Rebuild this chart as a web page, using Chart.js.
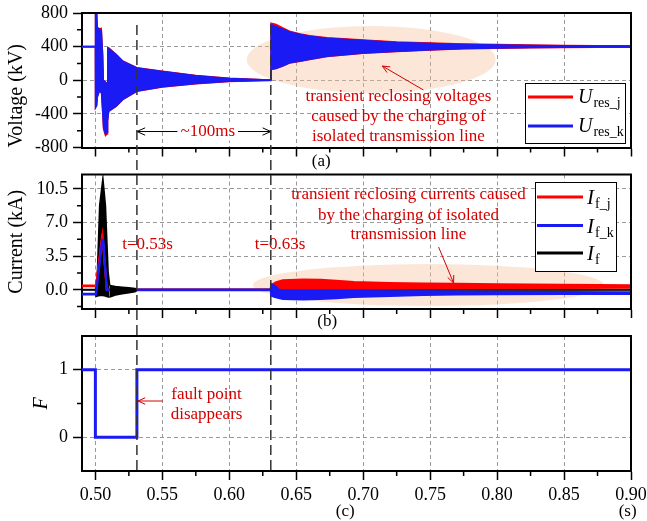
<!DOCTYPE html>
<html><head><meta charset="utf-8">
<script src="https://cdn.jsdelivr.net/npm/chart.js@4.4.1/dist/chart.umd.min.js"></script>
<style>
html,body{margin:0;padding:0;background:#fff;}
#wrap{position:relative;width:647px;height:521px;overflow:hidden;background:#fff;}
#wrap canvas{position:absolute;left:0;top:0;}
</style></head><body>
<div id="wrap">
<canvas id="cV" width="647" height="521"></canvas>
<canvas id="cI" width="647" height="521"></canvas>
<canvas id="cF" width="647" height="521"></canvas>
</div>
<script>
// ---------- tick values ----------
const xMajor = [0.50,0.55,0.60,0.65,0.70,0.75,0.80,0.85,0.90];
const xMinor = [0.525,0.575,0.625,0.675,0.725,0.775,0.825,0.875];
const vMajor = [-800,-400,0,400,800];
const vMinor = [-600,-200,200,600];
const iMajor = [0,3.5,7,10.5];
const iMinor = [-1.75,1.75,5.25,8.75];
const fMajor = [0,1];
const fMinor = [0.5];
const tEvents = [0.531, 0.631];

// ---------- (a) residual voltages: envelope of the oscillation (kV) ----------
const tU   = [0.49,0.4999,0.5000,0.5010,0.5015,0.5030,0.5045,0.5055,0.5060,0.5075,0.5088,0.5092,0.5100,0.5155,0.5205,0.5310,0.5500,0.5750,0.6000,0.6250,0.6309,0.6311,0.6350,0.6400,0.6450,0.6530,0.6600,0.6730,0.7000,0.7250,0.7500,0.7750,0.8000,0.8250,0.8500,0.8750,0.9000];
const uKHi = [400,400,820,820,620,610,590,300,0,-20,-40,387,380,307,227,148,107,56,24,8,5,665,640,610,575,545,525,500,475,452,440,428,422,416,412,410,408];
const uKLo = [400,400,-330,-300,-200,-130,-150,-400,-560,-640,-620,-480,-370,-310,-230,-131,-79,-40,-15,-5,-3,128,140,170,205,227,247,285,322,342,360,375,383,388,391,393,394];
const uJHi = [407,407,820,820,630,615,620,300,0,-20,-40,390,385,310,230,150,109,58,25,9,6,680,665,625,585,553,532,507,482,458,446,433,427,420,416,413,411];
const uJLo = [393,393,-330,-300,-200,-130,-150,-420,-580,-662,-640,-480,-372,-312,-232,-133,-81,-42,-17,-6,-4,125,137,167,202,224,244,282,319,339,357,372,380,385,388,390,391];

// ---------- (b) currents (kA) ----------
const tIj  = [0.49,0.5005,0.5052,0.5085,0.631,0.6312,0.635,0.640,0.655,0.668,0.680,0.693,0.72,0.745,0.77,0.80,0.85,0.90];
const ijHi = [0.45,0.45,5.85,0.02,0.02,0.5,0.8,1.0,1.08,1.05,0.95,0.82,0.7,0.66,0.62,0.58,0.52,0.48];
const ijLo = [0.38,0.38,5.6,-0.02,-0.02,0.0,0.05,0.1,0.12,0.12,0.12,0.12,0.12,0.13,0.14,0.15,0.18,0.22];
const tIk  = [0.49,0.5005,0.5050,0.5060,0.5085,0.631,0.6312,0.634,0.637,0.640,0.655,0.668,0.680,0.693,0.72,0.745,0.77,0.80,0.85,0.90];
const ikHi = [-0.42,-0.42,5.2,5.2,0.05,0.02,0.6,0.4,0.0,-0.12,-0.12,-0.12,-0.12,-0.13,-0.14,-0.15,-0.17,-0.2,-0.22,-0.25];
const ikLo = [-0.5,-0.5,4.8,4.8,-0.05,-0.02,-0.6,-0.75,-0.85,-0.95,-1.0,-0.95,-0.87,-0.75,-0.65,-0.55,-0.5,-0.47,-0.45,-0.45];
// fault current I_f: spike, decaying tail, rest
const tIfS  = [0.49,0.5000,0.5005,0.5015,0.5032,0.5056,0.5075,0.5095,0.5107];
const ifSHi = [0.02,0.02,0.3,1.9,8.8,11.6,8.8,1.9,0.45];
const ifSLo = [-0.02,-0.02,-0.7,-0.65,-0.6,-0.6,-0.65,-0.75,-0.75];
const tIfT  = [0.5107,0.515,0.520,0.525,0.5295,0.531];
const ifTHi = [0.45,0.35,0.27,0.2,0.14,0.05];
const ifTLo = [-0.75,-0.55,-0.42,-0.3,-0.2,-0.05];
const tIfR  = [0.531,0.90];
const ifRHi = [0.02,0.02];
const ifRLo = [-0.02,-0.02];

// ---------- (c) fault flag ----------
const tF   = [0.49,0.50,0.50,0.531,0.531,0.90];
const fVal = [1,1,0,0,1,1];

// ---------- labels ----------
const legendV = [{main:'U',sub:'res_j'},{main:'U',sub:'res_k'}];
const legendI = [{main:'I',sub:'f_j'},{main:'I',sub:'f_k'},{main:'I',sub:'f'}];

// ---------- styling ----------
const SERIF = "'Liberation Serif','Times New Roman',serif";
const RED = '#ff0000', BLUE = '#1a1af5', BLACK = '#000000', TXT_RED = '#d40000';
const GRID = '#9a9a9a';

function pts(t, v){ return t.map((x,i)=>({x:x, y:v[i]})); }
function band(t, hi, lo, color, order, bw){
  return [
    {data:pts(t,hi), borderColor:color, backgroundColor:color, borderWidth:bw, pointRadius:0, fill:false, order:order+0.5},
    {data:pts(t,lo), borderColor:color, backgroundColor:color, borderWidth:bw, pointRadius:0, fill:'-1', order:order}
  ];
}
function xScale(showLabels, h){
  return {type:'linear', min:0.49, max:0.90,
    afterBuildTicks: s => { s.ticks = xMajor.map(v=>({value:v})); },
    afterFit: s => { s.height = h; s.paddingLeft = 0; s.paddingRight = 0; },
    ticks:{display:showLabels, autoSkip:false, maxRotation:0, padding:4, color:'#000',
      font:{family:SERIF,size:18}, callback: v => Number(v).toFixed(2)},
    grid:{color: c => (c.tick && c.tick.value > 0.899) ? 'rgba(0,0,0,0)' : GRID, lineWidth:1, tickLength:9, tickColor:'#000', tickWidth:1.5},
    border:{display:true, color:'#000', width:2, dash:[4,3]}
  };
}
function yScale(min, max, major, fmt, title, titlePad, italic, align){
  return {type:'linear', min:min, max:max,
    afterBuildTicks: s => { s.ticks = major.map(v=>({value:v})); },
    afterFit: s => { s.width = 82; s.paddingTop = 0; s.paddingBottom = 0; },
    ticks:{padding:5, color:'#000', autoSkip:false, font:{family:SERIF,size:18}, callback: fmt},
    grid:{color:GRID, lineWidth:1, tickLength:9, tickColor:'#000', tickWidth:1.5},
    border:{display:true, color:'#000', width:2, dash:[4,3]},
    title:{display:true, text:title, color:'#000', align:align||'center',
      font:{family:SERIF,size:20,style: italic?'italic':'normal'}, padding:{top:titlePad,bottom:0}}
  };
}
function pxy(ch, t, v){ return [ch.scales.x.getPixelForValue(t), ch.scales.y.getPixelForValue(v)]; }
function txt(ctx, s, x, y, o){
  o = o || {};
  ctx.save();
  ctx.font = (o.style||'') + ' ' + (o.size||17) + 'px ' + SERIF;
  ctx.fillStyle = o.color || '#000'; ctx.textAlign = o.align || 'center'; ctx.textBaseline = 'middle';
  ctx.fillText(s, x, y); ctx.restore();
}
function drawArrow(ctx, x1, y1, x2, y2, color, lw, head){
  ctx.save(); ctx.strokeStyle = color; ctx.lineWidth = lw; ctx.setLineDash([]);
  ctx.beginPath(); ctx.moveTo(x1,y1); ctx.lineTo(x2,y2); ctx.stroke();
  const a = Math.atan2(y2-y1, x2-x1), s = 0.42;
  ctx.beginPath();
  ctx.moveTo(x2 - head*Math.cos(a-s), y2 - head*Math.sin(a-s));
  ctx.lineTo(x2, y2);
  ctx.lineTo(x2 - head*Math.cos(a+s), y2 - head*Math.sin(a+s));
  ctx.stroke(); ctx.restore();
}
function drawLegend(ctx, L){
  ctx.save();
  ctx.fillStyle = '#fff'; ctx.fillRect(L.x0, L.y0, L.x1-L.x0, L.y1-L.y0);
  ctx.strokeStyle = '#000'; ctx.lineWidth = 1; ctx.strokeRect(L.x0+0.5, L.y0+0.5, L.x1-L.x0, L.y1-L.y0);
  L.rows.forEach((r,i) => {
    ctx.strokeStyle = L.colors[i]; ctx.lineWidth = 3;
    ctx.beginPath(); ctx.moveTo(L.lx0, L.ys[i]); ctx.lineTo(L.lx1, L.ys[i]); ctx.stroke();
    ctx.fillStyle = '#000'; ctx.textAlign = 'left'; ctx.textBaseline = 'alphabetic';
    ctx.font = 'italic ' + L.size + 'px ' + SERIF;
    ctx.fillText(r.main, L.tx, L.ys[i] + L.b1);
    const w = ctx.measureText(r.main).width;
    ctx.font = L.sub + 'px ' + SERIF;
    ctx.fillText(r.sub, L.tx + w + 1, L.ys[i] + L.b2);
  });
  ctx.restore();
}
function deco(cfg){
  return {
    id:'deco',
    beforeDatasetsDraw(ch){
      const ctx = ch.ctx;
      (cfg.ellipses||[]).forEach(e => {
        const [xa,ya] = pxy(ch, e.t0, e.v1), [xb,yb] = pxy(ch, e.t1, e.v0);
        ctx.save(); ctx.fillStyle = 'rgba(246,188,152,0.38)'; ctx.beginPath();
        ctx.ellipse((xa+xb)/2, (ya+yb)/2, (xb-xa)/2, (yb-ya)/2, 0, 0, Math.PI*2); ctx.fill(); ctx.restore();
      });
    },
    afterDraw(ch){
      const ctx = ch.ctx, a = ch.chartArea, sx = ch.scales.x, sy = ch.scales.y;
      ctx.save(); ctx.strokeStyle = '#000'; ctx.lineWidth = 1.5; ctx.setLineDash([]);
      ctx.beginPath();
      xMinor.forEach(v => { const p = sx.getPixelForValue(v); ctx.moveTo(p, a.bottom); ctx.lineTo(p, a.bottom+5); });
      cfg.yMinor.forEach(v => { const p = sy.getPixelForValue(v); ctx.moveTo(a.left, p); ctx.lineTo(a.left-5, p); });
      ctx.stroke();
      ctx.lineWidth = 2; ctx.beginPath();
      ctx.moveTo(a.left-1, a.top); ctx.lineTo(a.right, a.top); ctx.lineTo(a.right, a.bottom+1); ctx.stroke();
      ctx.restore();
      (cfg.texts||[]).forEach(o => { const [x,y] = pxy(ch, o.t, o.v); txt(ctx, o.s, x, y, o); });
      (cfg.arrows||[]).forEach(o => { const [x1,y1] = pxy(ch, o.t1, o.v1), [x2,y2] = pxy(ch, o.t2, o.v2); drawArrow(ctx, x1, y1, x2, y2, o.color, 1, 8); });
      if (cfg.extra) cfg.extra(ch);
      if (cfg.legend) drawLegend(ctx, cfg.legend);
    }
  };
}
function makeChart(id, datasets, yOpts, padTop, padBottom, xH, xLabels, plugin){
  return new Chart(document.getElementById(id), {
    type:'line',
    data:{datasets:datasets},
    options:{
      responsive:false, animation:false, devicePixelRatio:1, events:[],
      layout:{padding:{left:0, right:16, top:padTop, bottom:padBottom}},
      plugins:{legend:{display:false}, tooltip:{enabled:false}},
      elements:{point:{radius:0}, line:{tension:0}},
      scales:{x:xScale(xLabels, xH), y:yOpts}
    },
    plugins:[plugin]
  });
}

// ---------- (a) ----------
makeChart('cV',
  [].concat(band(tU, uJHi, uJLo, RED, 8, 1.2), band(tU, uKHi, uKLo, BLUE, 6, 1.2)),
  yScale(-800, 800, vMajor, v => String(v), 'Voltage (kV)', 5, false, 'start'),
  13, 361.5, 12, false,
  deco({
    yMinor: vMinor,
    ellipses:[{t0:0.613, t1:0.799, v0:-150, v1:645}],
    texts:[
      {s:'transient reclosing voltages', t:0.7263, v:-199, color:TXT_RED},
      {s:'caused by the charging of', t:0.7263, v:-437, color:TXT_RED},
      {s:'isolated transmission line', t:0.7263, v:-675, color:TXT_RED},
      {s:'(a)', t:0.6686, v:-972}
    ],
    arrows:[{t1:0.7450, v1:-116, t2:0.7143, v2:169, color:TXT_RED}],
    extra(ch){
      const ctx = ch.ctx;
      const [x1, y] = pxy(ch, tEvents[0], -610), [x2] = pxy(ch, tEvents[1], -610);
      const xm = ch.scales.x.getPixelForValue(0.5839);
      drawArrow(ctx, xm, y, x1, y, '#000', 1, 9);
      drawArrow(ctx, xm, y, x2, y, '#000', 1, 9);
      ctx.save(); ctx.font = '17px ' + SERIF; const w = ctx.measureText('~100ms').width;
      ctx.fillStyle = '#fff'; ctx.fillRect(xm - w/2 - 3, y - 9, w + 6, 18); ctx.restore();
      txt(ctx, '~100ms', xm, y, {color:TXT_RED});
    },
    legend:{x0:525, y0:83, x1:625, y1:143, lx0:528, lx1:573, tx:578, ys:[97, 126],
      colors:[RED, BLUE], rows:legendV, size:20, sub:14, b1:6, b2:10}
  })
);

// ---------- (b) ----------
makeChart('cI',
  [].concat(
    band(tIfS, ifSHi, ifSLo, BLACK, 12, 1.5),
    band(tIfR, ifRHi, ifRLo, BLACK, 12, 1.5),
    band(tIj, ijHi, ijLo, RED, 8, 2),
    band(tIk, ikHi, ikLo, BLUE, 6, 2),
    band(tIfT, ifTHi, ifTLo, BLACK, 2, 1.5)
  ),
  yScale(-2, 12, iMajor, v => Number(v).toFixed(1), 'Current (kA)', 5, false),
  174.5, 200, 12, false,
  deco({
    yMinor: iMinor,
    ellipses:[{t0:0.6176, t1:0.8799, v0:-1.69, v1:2.68}],
    texts:[
      {s:'transient reclosing currents caused', t:0.7338, v:9.87, color:TXT_RED},
      {s:'by the charging of isolated', t:0.7338, v:7.78, color:TXT_RED},
      {s:'transmission line', t:0.7338, v:5.70, color:TXT_RED},
      {s:'t=0.53s', t:0.5390, v:4.66, color:TXT_RED},
      {s:'t=0.63s', t:0.6379, v:4.66, color:TXT_RED},
      {s:'(b)', t:0.6731, v:-3.35}
    ],
    arrows:[{t1:0.7563, v1:4.45, t2:0.7675, v2:0.71, color:TXT_RED}],
    legend:{x0:535, y0:182, x1:616, y1:271, lx0:537, lx1:583, tx:587, ys:[197, 225.5, 253],
      colors:[RED, BLUE, BLACK], rows:legendI, size:21, sub:14, b1:7, b2:11}
  })
);

// ---------- (c) ----------
makeChart('cF',
  [{data:pts(tF, fVal), borderColor:BLUE, borderWidth:3, pointRadius:0, fill:false}],
  yScale(-0.5, 1.5, fMajor, v => String(v), 'F', 30, true),
  336, 0, 50, true,
  deco({
    yMinor: fMinor,
    texts:[
      {s:'fault point', t:0.5830, v:0.626, color:TXT_RED},
      {s:'disappears', t:0.5830, v:0.330, color:TXT_RED},
      {s:'(c)', t:0.6866, v:-1.107},
      {s:'(s)', t:0.8975, v:-1.107}
    ],
    arrows:[{t1:0.5504, v1:0.537, t2:0.5318, v2:0.537, color:TXT_RED}],
    extra(ch){
      const ctx = ch.ctx;
      tEvents.forEach(t => {
        const x = ch.scales.x.getPixelForValue(t);
        ctx.save(); ctx.strokeStyle = '#333'; ctx.lineWidth = 1.5; ctx.setLineDash([10,5]);
        ctx.beginPath(); ctx.moveTo(x, 25); ctx.lineTo(x, ch.chartArea.bottom); ctx.stroke(); ctx.restore();
      });
    }
  })
);
</script>
</body></html>
